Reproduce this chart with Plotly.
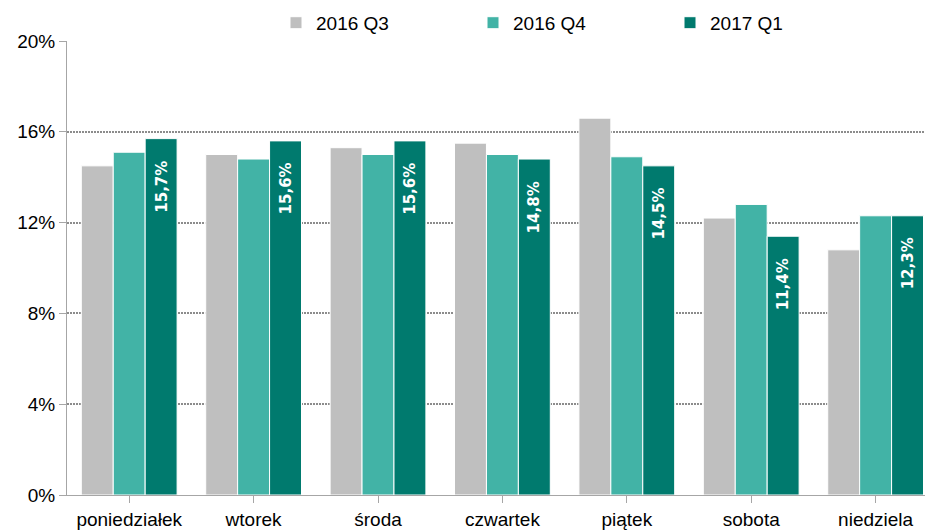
import plotly.graph_objects as go

days = ["poniedziałek", "wtorek", "środa", "czwartek", "piątek", "sobota", "niedziela"]
series_names = ["2016 Q3", "2016 Q4", "2017 Q1"]
q3_2016 = [14.5, 15.0, 15.3, 15.5, 16.6, 12.2, 10.8]
q4_2016 = [15.1, 14.8, 15.0, 15.0, 14.9, 12.8, 12.3]
q1_2017 = [15.7, 15.6, 15.6, 14.8, 14.5, 11.4, 12.3]
colors = ["#BFBFBF", "#42B3A6", "#007A6E"]
y_ticks = [0, 4, 8, 12, 16, 20]

font_family = "Liberation Sans Narrow, Arial Narrow, Liberation Sans, sans-serif"
bargap = 0.23

fig = go.Figure()
for name, vals, col in zip(series_names, [q3_2016, q4_2016, q1_2017], colors):
    fig.add_trace(go.Bar(
        x=list(range(len(days))), y=vals, name=name,
        marker=dict(color=col, line=dict(color="white", width=1)),
    ))

# value labels on the 2017 Q1 bars, rotated, just below the bar tops
bar_w = (1 - bargap) / 3
for i, v in enumerate(q1_2017):
    fig.add_annotation(
        x=i + bar_w, y=v, xref="x", yref="y",
        text="<b>" + f"{v:.1f}".replace(".", ",") + "%</b>",
        textangle=-90, showarrow=False,
        yanchor="top", xanchor="center", yshift=-20,
        font=dict(family="DejaVu Sans, sans-serif", size=15, color="white"),
    )

fig.update_layout(
    width=925, height=531,
    margin=dict(l=67, r=0, t=41, b=36),
    plot_bgcolor="white", paper_bgcolor="white",
    barmode="group", bargap=bargap, bargroupgap=0,
    font=dict(family=font_family, size=19, color="#000000"),
    legend=dict(
        orientation="h", x=0.2436, xanchor="left", y=1.04, yanchor="middle",
        font=dict(family=font_family, size=19),
        itemwidth=30, traceorder="normal",
        entrywidth=152, entrywidthmode="pixels",
    ),
    showlegend=True,
)
fig.update_xaxes(
    tickmode="array", tickvals=list(range(len(days))), ticktext=days,
    range=[-0.5, 6.397],
    showline=True, linecolor="#A6A6A6", linewidth=1,
    ticks="outside", ticklen=7, tickcolor="#A6A6A6",
    showgrid=False, zeroline=False,
)
fig.update_yaxes(
    range=[0, 20], tickvals=y_ticks, ticktext=[f"{t}%" for t in y_ticks],
    showline=True, linecolor="#A6A6A6", linewidth=1,
    ticks="outside", ticklen=7, tickcolor="#A6A6A6",
    showgrid=True, gridcolor="#8C8C8C", griddash="1.5px,1.5px", gridwidth=1.5,
    zeroline=False,
)

fig.write_html("out.html")
